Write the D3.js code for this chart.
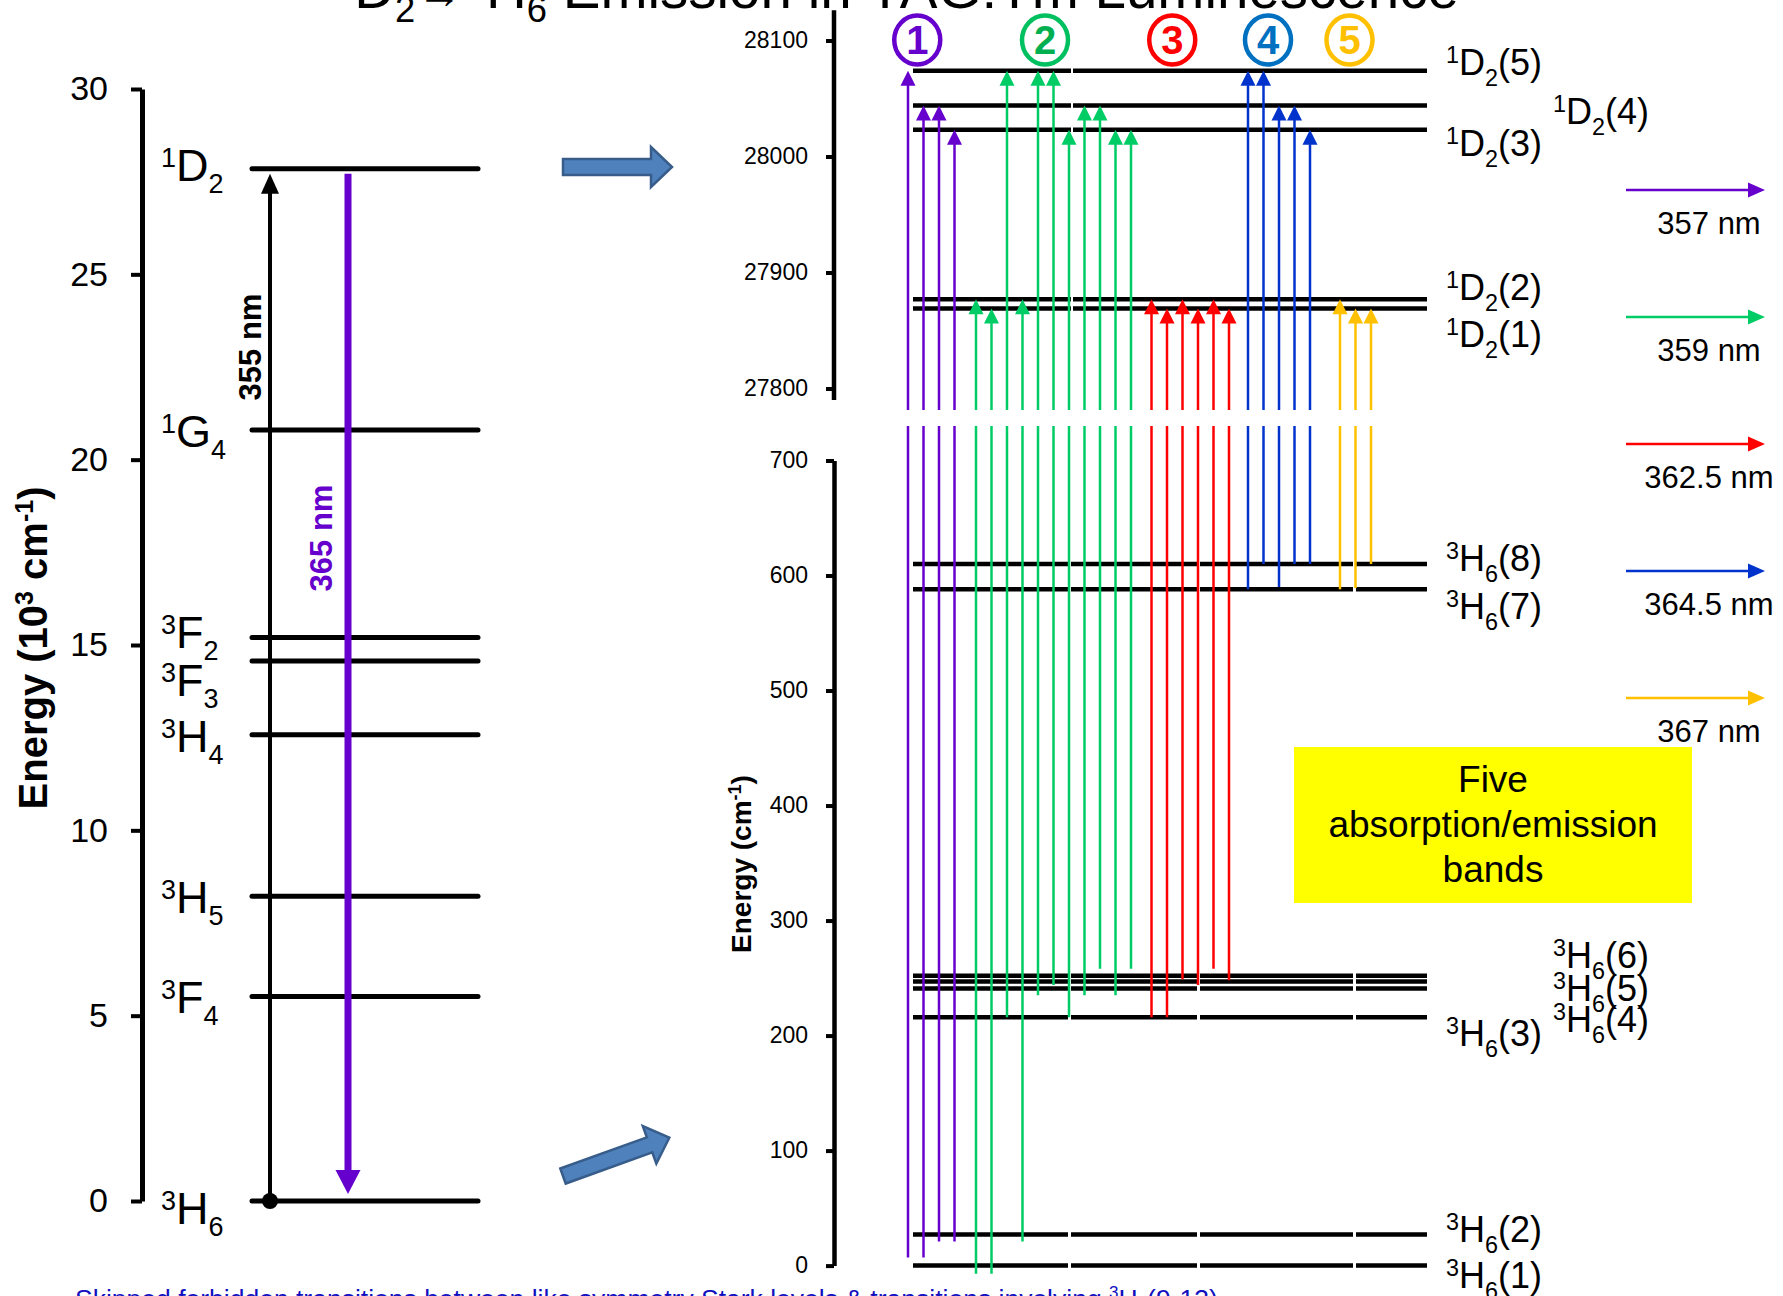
<!DOCTYPE html>
<html lang="en">
<head>
<meta charset="UTF-8">
<title>1D2 - 3H6 Emission</title>
<script src="https://d3js.org/d3.v7.min.js"></script>
<style>
  body { margin: 0; background: #fff; overflow: hidden; }
  svg text { font-family: "Liberation Sans", Arial, sans-serif; white-space: pre; }
</style>
</head>
<body>
<div id="chart"></div>
<script>
// ------------------------------- data -------------------------------
// left panel : manifolds, energy in 10^3 cm-1
const manifolds = ["1D2", "1G4", "3F2", "3F3", "3H4", "3H5", "3F4", "3H6"];
const manifoldEnergy = [27.85, 20.8, 15.2, 14.57, 12.58, 8.22, 5.52, 0];
const leftTicks = [0, 5, 10, 15, 20, 25, 30];
const pumpLabel = "355 nm";
const emitLabel = "365 nm";

// right panel : Stark levels, cm-1
const upperNames = ["1D2(1)", "1D2(2)", "1D2(3)", "1D2(4)", "1D2(5)"];
const upperEnergy = [27869, 27877, 28023, 28044, 28074];
const upperTicks = [27800, 27900, 28000, 28100];
const lowerNames = ["3H6(1)", "3H6(2)", "3H6(3)", "3H6(4)", "3H6(5)", "3H6(6)", "3H6(7)", "3H6(8)"];
const lowerEnergy = [0, 27, 216, 241, 247, 252, 588, 610];
const lowerTicks = [0, 100, 200, 300, 400, 500, 600, 700];

// bands
const bandNames = ["1", "2", "3", "4", "5"];
const bandNm = ["357 nm", "359 nm", "362.5 nm", "364.5 nm", "367 nm"];
// lower end of every line (cm-1, as drawn) and the 1D2 Stark level it reaches
const transitionStart = [
  [7, 7, 21, 21],
  [-7, -7, 216, 21, 235, 244, 216, 235, 258, 235, 258],
  [216, 216, 249, 244, 258, 248],
  [588, 610, 590, 610, 610],
  [588, 589, 610]
];
const transitionEnd = [
  [5, 4, 4, 3],
  [2, 1, 5, 2, 5, 5, 3, 4, 4, 3, 3],
  [2, 1, 2, 1, 2, 1],
  [5, 5, 4, 4, 3],
  [2, 1, 1]
];
const boxLines = ["Five", "absorption/emission", "bands"];
const footnote = "Skipped forbidden transitions between like symmetry Stark levels & transitions involving ";

// ------------------------------- style -------------------------------
const bandColor = ["#6600CC", "#00CC66", "#FF0000", "#0033CC", "#FFC000"];
const ringColor = ["#6600CC", "#00C060", "#FF0000", "#0070C0", "#FFC000"];
const numColor = ["#6600CC", "#00B050", "#FF0000", "#0070C0", "#FFC000"];
const purple = "#6600CC";
const bandShift = [0, 6, 11, 14.5, 29];      // extra gap before each band (px)
const ringShift = [-14, -8.5, -18, -11, -6]; // circle offset from band centre (px)

const W = 1783, H = 1296;
const svg = d3.select("#chart").append("svg").attr("width", W).attr("height", H);

// label text with superscript / subscript (e.g. 3H6(8))
function term(sel, x, y, name, size, ratio, up, down) {
  const m = name.match(/^(\d)([A-Z])(\d)(.*)$/);
  const s = size * ratio;
  const t = sel.append("text").attr("x", x).attr("y", y).attr("font-size", size);
  t.append("tspan").attr("font-size", s).attr("dy", -up).text(m[1]);
  t.append("tspan").attr("dy", up).text(m[2]);
  t.append("tspan").attr("font-size", s).attr("dy", down).text(m[3]);
  if (m[4]) t.append("tspan").attr("dy", -down).text(m[4]);
  return t;
}

function tri(sel, x, tip, dir, half, len, color) { // dir -1 = up, 1 = down
  sel.append("path")
    .attr("d", `M${x},${tip} L${x - half},${tip - dir * len} L${x + half},${tip - dir * len} Z`)
    .attr("fill", color);
}

// ------------------------------- title -------------------------------
const title = svg.append("g");
const tt = title.append("text").attr("font-size", 56).attr("fill", "#000");
tt.append("tspan").attr("font-size", 36).attr("dy", -18).text("1");
tt.append("tspan").attr("dy", 18).text("D");
tt.append("tspan").attr("font-size", 36).attr("dy", 14).text("2");
tt.append("tspan").attr("dy", -14).attr("dx", 2).attr("font-size", 44).text("\u2192");
tt.append("tspan").attr("font-size", 36).attr("dy", -18).attr("dx", 4).text("3");
tt.append("tspan").attr("dy", 18).text("H");
tt.append("tspan").attr("font-size", 36).attr("dy", 14).text("6");
tt.append("tspan").attr("dy", -14).text(" Emission in YAG:Tm Luminescence");
const tw = tt.node().getComputedTextLength();
title.attr("transform", `translate(334,8) scale(${1119 / tw})`);

// ------------------------------- left panel -------------------------------
const yL = d3.scaleLinear().domain([0, 30]).range([1201, 89]);
const axL = svg.append("g").attr("transform", "translate(142,0)")
  .call(d3.axisLeft(yL).tickValues(leftTicks).tickSize(11).tickSizeOuter(0).tickPadding(23));
axL.attr("font-family", null).attr("font-size", 34);
axL.select(".domain").attr("stroke-width", 5);
axL.selectAll(".tick line").attr("stroke-width", 4);
axL.selectAll(".tick text").attr("fill", "#000");

const yLab = svg.append("text").attr("transform", "translate(35,648) rotate(-90)")
  .attr("text-anchor", "middle").attr("dy", "0.3em").attr("font-size", 40).attr("font-weight", "bold");
yLab.append("tspan").text("Energy (10");
yLab.append("tspan").attr("font-size", 25).attr("dy", -14).text("3");
yLab.append("tspan").attr("dy", 14).text(" cm");
yLab.append("tspan").attr("font-size", 25).attr("dy", -14).text("-1");
yLab.append("tspan").attr("dy", 14).text(")");

const leftNudge = { "1D2": -5, "3F2": -7, "3F3": 18, "3H6": 6 };
manifolds.forEach((m, i) => {
  const y = yL(manifoldEnergy[i]);
  svg.append("line").attr("x1", 252).attr("x2", 478).attr("y1", y).attr("y2", y)
    .attr("stroke", "#000").attr("stroke-width", 5).attr("stroke-linecap", "round");
  term(svg, 161, y + 17 + (leftNudge[m] || 0), m, 45, 0.6, 14, 12);
});

// 355 nm pump (black, up)
const d2Y = yL(manifoldEnergy[0]);
svg.append("line").attr("x1", 270).attr("x2", 270).attr("y1", yL(0)).attr("y2", d2Y + 20)
  .attr("stroke", "#000").attr("stroke-width", 4);
tri(svg, 270, d2Y + 5, -1, 9, 20, "#000");
svg.append("circle").attr("cx", 270).attr("cy", yL(0)).attr("r", 8).attr("fill", "#000");
svg.append("text").attr("transform", "translate(250,347) rotate(-90)").attr("text-anchor", "middle")
  .attr("dy", "0.35em").attr("font-size", 31).attr("font-weight", "bold").text(pumpLabel);

// 365 nm emission (purple, down)
svg.append("line").attr("x1", 348).attr("x2", 348).attr("y1", d2Y + 5).attr("y2", yL(0) - 28)
  .attr("stroke", purple).attr("stroke-width", 7);
tri(svg, 348, yL(0) - 7, 1, 12.5, 24, purple);
svg.append("text").attr("transform", "translate(321,538) rotate(-90)").attr("text-anchor", "middle")
  .attr("dy", "0.35em").attr("font-size", 31).attr("font-weight", "bold").attr("fill", purple).text(emitLabel);

// block arrows
function blockArrow(x, y, angle, len) {
  const h = 8, hh = 20, hl = 21;
  svg.append("path")
    .attr("d", `M0,${-h} L${len - hl},${-h} L${len - hl},${-hh} L${len},0 L${len - hl},${hh} L${len - hl},${h} L0,${h} Z`)
    .attr("transform", `translate(${x},${y}) rotate(${angle})`)
    .attr("fill", "#4F81BD").attr("stroke", "#385D8A").attr("stroke-width", 2.5);
}
blockArrow(563, 167, 0, 109);
blockArrow(563, 1176, -19.8, 113);

// ------------------------------- right panel -------------------------------
const yUp = d3.scaleLinear().domain([27800, 28100]).range([388.5, 40.5]);
const yLo = d3.scaleLinear().domain([0, 700]).range([1265.6, 460.5]);
const axX = 834;
const breakTop = 410, breakBottom = 426;

const axU = svg.append("g").attr("transform", `translate(${axX},0)`)
  .call(d3.axisLeft(yUp).tickValues(upperTicks).tickFormat(d3.format("d"))
    .tickSize(8).tickSizeOuter(0).tickPadding(18));
axU.select(".domain").remove();
svg.append("line").attr("x1", axX).attr("x2", axX).attr("y1", yUp(28126)).attr("y2", yUp(27790))
  .attr("stroke", "#000").attr("stroke-width", 4.5);
const axD = svg.append("g").attr("transform", `translate(${axX},0)`)
  .call(d3.axisLeft(yLo).tickValues(lowerTicks).tickFormat(d3.format("d"))
    .tickSize(8).tickSizeOuter(0).tickPadding(18));
axD.select(".domain").attr("stroke-width", 4.5);
[axU, axD].forEach(a => {
  a.attr("font-family", null).attr("font-size", 23);
  a.selectAll(".tick line").attr("stroke-width", 4);
  a.selectAll(".tick text").attr("fill", "#000");
});

const rLab = svg.append("text").attr("transform", "translate(743,864) rotate(-90)")
  .attr("text-anchor", "middle").attr("dy", "0.28em").attr("font-size", 28).attr("font-weight", "bold");
rLab.append("tspan").text("Energy (cm");
rLab.append("tspan").attr("font-size", 18).attr("dy", -10).text("-1");
rLab.append("tspan").attr("dy", 10).text(")");

// Stark level lines (drawn in pieces as in the original)
const upperCuts = [[913, 1071], [1073, 1427]];
const lowerCuts = [[913, 1068], [1071, 1197], [1200, 1353], [1356, 1427]];
function levelLines(energies, yS, cuts) {
  energies.forEach(e => {
    cuts.forEach(c => {
      svg.append("line").attr("x1", c[0]).attr("x2", c[1]).attr("y1", yS(e)).attr("y2", yS(e))
        .attr("stroke", "#000").attr("stroke-width", 4.5);
    });
  });
}
levelLines(upperEnergy, yUp, upperCuts);
levelLines(lowerEnergy, yLo, lowerCuts);

// level labels : column and baseline offset
const labelPos = {
  "1D2(5)": [1446, 4], "1D2(4)": [1553, 19], "1D2(3)": [1446, 26], "1D2(2)": [1446, 1], "1D2(1)": [1446, 39],
  "3H6(8)": [1446, 7], "3H6(7)": [1446, 30], "3H6(6)": [1553, -8], "3H6(5)": [1553, 19], "3H6(4)": [1553, 44],
  "3H6(3)": [1446, 29], "3H6(2)": [1446, 7], "3H6(1)": [1446, 22]
};
upperNames.forEach((n, i) => term(svg, labelPos[n][0], yUp(upperEnergy[i]) + labelPos[n][1], n, 36, 0.65, 12, 11));
lowerNames.forEach((n, i) => term(svg, labelPos[n][0], yLo(lowerEnergy[i]) + labelPos[n][1], n, 36, 0.65, 12, 11));

// transitions
const flat = [];
transitionStart.forEach((arr, b) => arr.forEach((e, k) => flat.push({ band: b, start: e, end: transitionEnd[b][k] })));
const xT = d3.scaleLinear().domain([0, flat.length - 1]).range([908, 908 + (flat.length - 1) * 15.5]);
const bandX = bandNames.map(() => []);
flat.forEach((t, i) => {
  const x = xT(i) + bandShift[t.band];
  bandX[t.band].push(x);
  const c = bandColor[t.band];
  const tip = yUp(upperEnergy[t.end - 1]);
  svg.append("line").attr("x1", x).attr("x2", x).attr("y1", yLo(t.start)).attr("y2", breakBottom)
    .attr("stroke", c).attr("stroke-width", 2.5);
  svg.append("line").attr("x1", x).attr("x2", x).attr("y1", breakTop).attr("y2", tip + 12)
    .attr("stroke", c).attr("stroke-width", 2.5);
  tri(svg, x, tip, -1, 7.5, 15, c);
});

// circled band numbers
bandNames.forEach((b, i) => {
  const cx = d3.mean(bandX[i]) + ringShift[i];
  svg.append("ellipse").attr("cx", cx).attr("cy", 40).attr("rx", 23).attr("ry", 24.5)
    .attr("fill", "none").attr("stroke", ringColor[i]).attr("stroke-width", 4.5);
  svg.append("text").attr("x", cx).attr("y", 54).attr("text-anchor", "middle")
    .attr("font-size", 40).attr("font-weight", "bold").attr("fill", numColor[i]).text(b);
});

// wavelength arrows on the right
const yKey = d3.scaleLinear().domain([0, 4]).range([190, 698]);
bandNm.forEach((nm, i) => {
  const y = yKey(i);
  svg.append("line").attr("x1", 1626).attr("x2", 1750).attr("y1", y).attr("y2", y)
    .attr("stroke", bandColor[i]).attr("stroke-width", 2.7);
  svg.append("path").attr("d", `M1765,${y} L1748,${y - 7.5} L1748,${y + 7.5} Z`).attr("fill", bandColor[i]);
  svg.append("text").attr("x", 1709).attr("y", y + 44).attr("text-anchor", "middle")
    .attr("font-size", 31).text(nm);
});

// yellow note
svg.append("rect").attr("x", 1294).attr("y", 747).attr("width", 398).attr("height", 156).attr("fill", "#FFFF00");
boxLines.forEach((l, i) => {
  svg.append("text").attr("x", 1493).attr("y", 792 + i * 45).attr("text-anchor", "middle")
    .attr("font-size", 37).text(l);
});

// footnote (cut by the bottom edge)
const fn = svg.append("text").attr("x", 75).attr("y", 1308).attr("font-size", 26.5).attr("fill", "#1010C0");
fn.append("tspan").text(footnote);
fn.append("tspan").attr("font-size", 17).attr("dy", -10).text("3");
fn.append("tspan").attr("dy", 10).text("H");
fn.append("tspan").attr("font-size", 17).attr("dy", 6).text("6");
fn.append("tspan").attr("dy", -6).text("(9-13)");
</script>
</body>
</html>
